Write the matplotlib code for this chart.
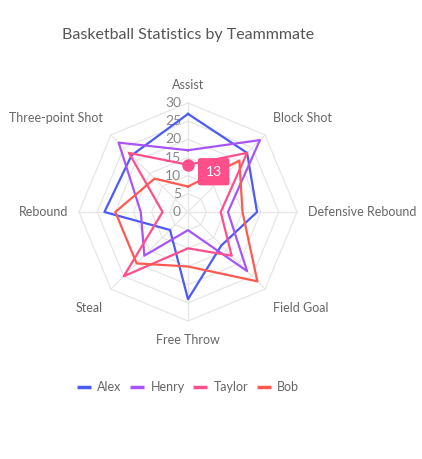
import numpy as np
import matplotlib
matplotlib.use("Agg")
import matplotlib.pyplot as plt

plt.rcParams['font.family'] = ['Lato', 'DejaVu Sans']

categories = ["Assist", "Block Shot", "Defensive Rebound", "Field Goal",
              "Free Throw", "Steal", "Rebound", "Three-point Shot"]
alex = [27, 23, 19, 13, 24, 7, 23, 22]
henry = [17, 28, 11, 23, 5, 17, 13, 27]
taylor = [13, 23, 9, 17, 10, 25, 7, 23]
bob = [7, 20, 15, 27, 15, 20, 20, 13]
series_names = ["Alex", "Henry", "Taylor", "Bob"]
series_values = [alex, henry, taylor, bob]
colors = ["#4C5BF5", "#A855F7", "#FF4F8B", "#FF5A50"]
ring_ticks = [0, 5, 10, 15, 20, 25, 30]
tooltip_series = 2
tooltip_index = 0

W, H = 422, 459
fig = plt.figure(figsize=(W / 100, H / 100), dpi=100)
cx, cy, R = 188, 212, 109
ax = fig.add_axes([(cx - R) / W, (H - cy - R) / H, 2 * R / W, 2 * R / H],
                  projection='polar')
ax.set_theta_zero_location('N')
ax.set_theta_direction(-1)
ax.set_ylim(0, 30)
ax.grid(False)
ax.spines['polar'].set_visible(False)
ax.set_xticks([])
ax.set_yticks([])
ax.patch.set_alpha(0)

n = len(categories)
theta = np.linspace(0, 2 * np.pi, n, endpoint=False)
theta_c = np.concatenate([theta, theta[:1]])

grid_col = "#E6E6E6"
for r in ring_ticks[1:]:
    ax.plot(theta_c, [r] * (n + 1), color=grid_col, lw=0.9, zorder=1, clip_on=False)
for t in theta:
    ax.plot([t, t], [0, ring_ticks[-1]], color=grid_col, lw=0.9, zorder=1, clip_on=False)

for r in ring_ticks:
    ax.annotate(str(r), xy=(0, r), xytext=(-5, 0), textcoords='offset points',
                ha='right', va='center', fontsize=10, color='#888888')

for name, vals, c in zip(series_names, series_values, colors):
    v = list(vals) + [vals[0]]
    ax.plot(theta_c, v, color=c, lw=1.6, label=name, zorder=3, clip_on=False)

# axis labels
for t, lab in zip(theta, categories):
    deg = np.degrees(t)
    dy = 0
    if abs(deg) < 1:
        ha, va, dy = 'center', 'bottom', 0.5
    elif abs(deg - 180) < 1:
        ha, va, dy = 'center', 'top', -1.5
    elif abs(deg - 90) < 1:
        ha, va = 'left', 'center'
    elif abs(deg - 270) < 1:
        ha, va = 'right', 'center'
    else:
        ha = 'left' if deg < 180 else 'right'
        if deg < 90 or deg > 270:
            va, dy = 'bottom', 2
        else:
            va, dy = 'top', -3.5
    ax.annotate(lab, xy=(t, 33), xytext=(0, dy), textcoords='offset points',
                ha=ha, va=va, fontsize=9, color='#666666', annotation_clip=False)

# tooltip
tv = series_values[tooltip_series][tooltip_index]
tc = colors[tooltip_series]
ax.plot([theta[tooltip_index]], [tv], 'o', color=tc, ms=8, zorder=5, clip_on=False)
ax.annotate(str(tv), xy=(theta[tooltip_index], tv), xytext=(18.5, -5),
            textcoords='offset points', ha='center', va='center',
            fontsize=10, color='white', zorder=6,
            bbox=dict(boxstyle='round,pad=0.55,rounding_size=0.15', fc=tc, ec='none'))

fig.text(62 / W, 1 - 35 / H, "Basketball Statistics by Teammmate",
         ha='left', va='center', fontsize=11.5, color='#555555')

leg = fig.legend(loc='center', bbox_to_anchor=(188 / W, 1 - 387 / H), ncol=4,
                 frameon=False, fontsize=9, handlelength=1.1, handletextpad=0.5,
                 columnspacing=0.7, labelcolor='#666666')
for l in leg.get_lines():
    l.set_linewidth(2.5)
    l.set_solid_capstyle('butt')

fig.savefig("out.png", dpi=100)
